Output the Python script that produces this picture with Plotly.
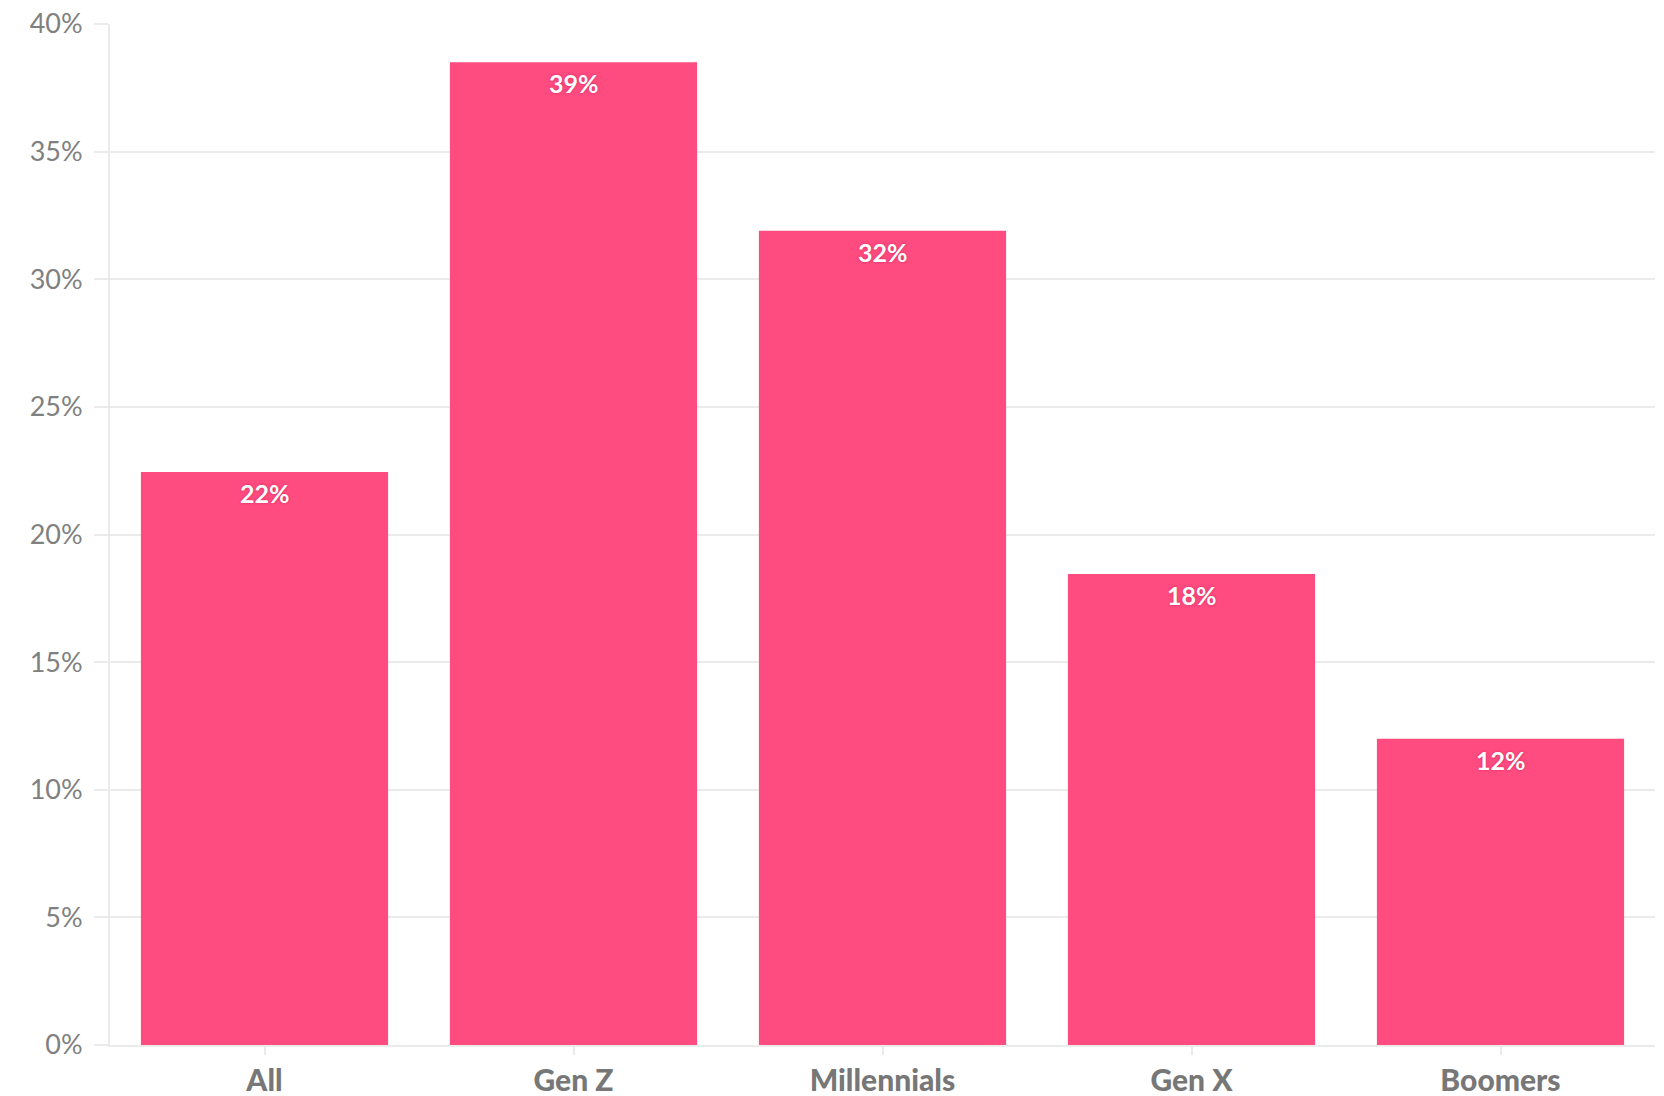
import plotly.graph_objects as go

categories = ["All", "Gen Z", "Millennials", "Gen X", "Boomers"]
values = [22.45, 38.5, 31.9, 18.45, 12.0]
labels = ["22%", "39%", "32%", "18%", "12%"]
y_ticks = [0, 5, 10, 15, 20, 25, 30, 35, 40]
y_tick_text = [f"{v}%" for v in y_ticks]

bar_color = "#FF4C80"
grid_color = "#EBEBEB"

fig = go.Figure()
fig.add_trace(go.Bar(
    x=categories, y=values,
    marker=dict(color=bar_color, line=dict(width=0)),
    hoverinfo="skip",
))

for c, v, t in zip(categories, values, labels):
    fig.add_annotation(
        x=c, y=v, text=f"<b>{t}</b>", showarrow=False,
        yanchor="top", yshift=-4,
        font=dict(family="Lato, sans-serif", size=25, color="white",
                  shadow="0px 0px 3px #D92A60"),
    )

fig.update_layout(
    width=1664, height=1096,
    margin=dict(l=110, r=9, t=24, b=51, autoexpand=False),
    plot_bgcolor="white", paper_bgcolor="white",
    bargap=0.2,
    showlegend=False,
    font=dict(family="Lato, sans-serif"),
)
fig.update_xaxes(
    showgrid=False, automargin=False,
    showline=True, linecolor=grid_color, linewidth=2,
    ticks="outside", ticklen=8, tickcolor=grid_color, tickwidth=2,
    tickfont=dict(family="Lato, sans-serif", size=30, color="#777777", weight=900),
    ticklabelstandoff=0,
)
fig.update_yaxes(
    range=[0, 40], tickvals=y_ticks, ticktext=y_tick_text, automargin=False,
    showgrid=True, gridcolor=grid_color, gridwidth=2,
    zeroline=False,
    showline=True, linecolor=grid_color, linewidth=2,
    ticks="outside", ticklen=14, tickcolor=grid_color, tickwidth=2,
    tickfont=dict(family="Lato, sans-serif", size=27, color="#808080"),
    ticklabelstandoff=6,
)

fig.write_html("out.html")
